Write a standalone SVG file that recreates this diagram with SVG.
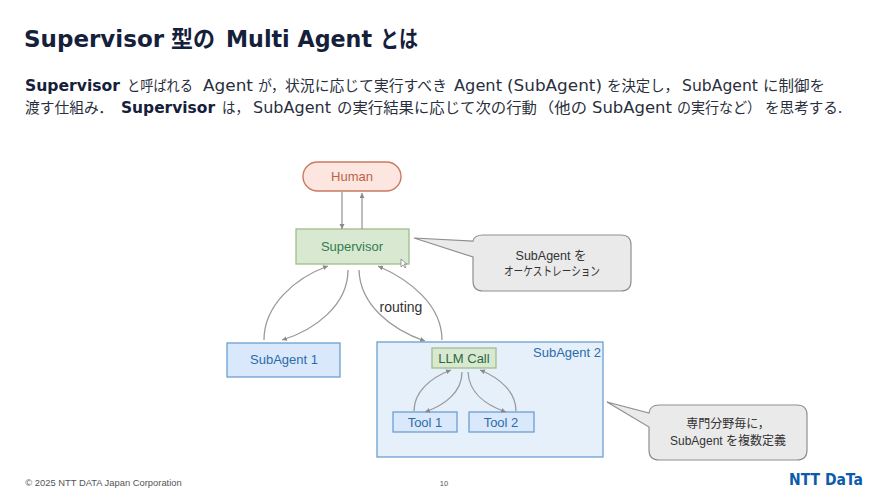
<svg xmlns="http://www.w3.org/2000/svg" width="887" height="501" viewBox="0 0 887 501">
<style>
.t{font-family:"DejaVu Sans","Noto Sans CJK JP",sans-serif;fill:#2a2f3d;font-size:15.5px}
.j{font-family:"Noto Sans CJK JP","DejaVu Sans",sans-serif;fill:#2a2f3d;font-size:14.5px}
.b{font-weight:700;fill:#15203a}
.h{font-size:23px}
.l{font-family:"Liberation Sans","Noto Sans CJK JP",sans-serif;text-anchor:middle}
.c{fill:none;stroke:#9a9a9a;stroke-width:1.3}
.blue{fill:#dae8fc;stroke:#6c9fd0;stroke-width:1.3}
.green{fill:#d9e8d0;stroke:#9ebd8c;stroke-width:1.3}
.call{fill:#eaeaea;stroke:#8f8f8f;stroke-width:1.2}
</style>
<defs>
<marker id="a" markerWidth="7" markerHeight="7" refX="5" refY="2.500" orient="auto" markerUnits="userSpaceOnUse"><path d="M0 0L5 2.500L0 5Z" fill="#8a8a8a"/></marker>
</defs>
<rect width="887" height="501" fill="#fff"/>
<g id="heading">
<text class="t b h" x="24" y="47">Supervisor</text>
<text class="j b h" x="171" y="47" textLength="44" lengthAdjust="spacingAndGlyphs">型の</text>
<text class="t b h" x="226" y="47" textLength="146" lengthAdjust="spacingAndGlyphs">Multi Agent</text>
<text class="j b h" x="380" y="47" textLength="38" lengthAdjust="spacingAndGlyphs">とは</text>
</g>
<g id="body">
<text class="t b" x="25" y="91" textLength="95" lengthAdjust="spacingAndGlyphs">Supervisor</text>
<text class="j" x="127" y="91" textLength="66" lengthAdjust="spacingAndGlyphs">と呼ばれる</text>
<text class="t" x="203" y="91" textLength="50" lengthAdjust="spacingAndGlyphs">Agent</text>
<text class="j" x="258" y="91" textLength="27" lengthAdjust="spacingAndGlyphs">が，</text>
<text class="j" x="285" y="91" textLength="162" lengthAdjust="spacingAndGlyphs">状況に応じて実行すべき</text>
<text class="t" x="454" y="91" textLength="48" lengthAdjust="spacingAndGlyphs">Agent</text>
<text class="t" x="507" y="91" textLength="95" lengthAdjust="spacingAndGlyphs">(SubAgent)</text>
<text class="j" x="607" y="91" textLength="72" lengthAdjust="spacingAndGlyphs">を決定し，</text>
<text class="t" x="682" y="91" textLength="76" lengthAdjust="spacingAndGlyphs">SubAgent</text>
<text class="j" x="763" y="91" textLength="62" lengthAdjust="spacingAndGlyphs">に制御を</text>
<text class="j" x="25" y="113" textLength="88" lengthAdjust="spacingAndGlyphs">渡す仕組み．</text>
<text class="t b" x="121" y="113" textLength="94" lengthAdjust="spacingAndGlyphs">Supervisor</text>
<text class="j" x="222" y="113" textLength="27" lengthAdjust="spacingAndGlyphs">は，</text>
<text class="t" x="253" y="113" textLength="78" lengthAdjust="spacingAndGlyphs">SubAgent</text>
<text class="j" x="337" y="113" textLength="200" lengthAdjust="spacingAndGlyphs">の実行結果に応じて次の行動</text>
<text class="j" x="538" y="113" textLength="49" lengthAdjust="spacingAndGlyphs">（他の</text>
<text class="t" x="592" y="113" textLength="80" lengthAdjust="spacingAndGlyphs">SubAgent</text>
<text class="j" x="677" y="113" textLength="84" lengthAdjust="spacingAndGlyphs">の実行など）</text>
<text class="j" x="765" y="113" textLength="77" lengthAdjust="spacingAndGlyphs">を思考する.</text>
</g>
<g id="human"><rect x="303" y="162" width="98" height="29" rx="14.5" fill="#fde6df" stroke="#c97a62" stroke-width="1.4"/><text class="l" x="352" y="181" font-size="13" fill="#b8644a">Human</text></g>
<g id="supervisor"><rect class="green" x="296" y="229" width="113" height="35"/><text class="l" x="352" y="251" font-size="13" fill="#2f7d4f">Supervisor</text></g>
<g id="routing-label"><text class="l" x="401" y="312" font-size="14" fill="#333">routing</text></g>
<g id="subagent1"><rect class="blue" x="227" y="343" width="113" height="34"/><text class="l" x="284" y="364" font-size="13" fill="#2b6ca8">SubAgent 1</text></g>
<g id="subagent2"><rect x="377" y="342" width="226" height="115" fill="#e6f0fb" stroke="#6c9fd0" stroke-width="1.3"/><text class="l" x="567" y="357" font-size="13" fill="#2b6ca8">SubAgent 2</text></g>
<g id="llm"><rect class="green" x="432" y="348" width="64" height="20"/><text class="l" x="464" y="363" font-size="13" fill="#2a6b3f">LLM Call</text></g>
<g id="tool1"><rect class="blue" x="393" y="412" width="64" height="20"/><text class="l" x="425" y="427" font-size="13" fill="#2b6ca8">Tool 1</text></g>
<g id="tool2"><rect class="blue" x="469" y="412" width="65" height="20"/><text class="l" x="501" y="427" font-size="13" fill="#2b6ca8">Tool 2</text></g>
<g id="connectors">
<path class="c" marker-end="url(#a)" d="M342 192V229"/>
<path class="c" marker-end="url(#a)" d="M362 229V193"/>
<path class="c" marker-end="url(#a)" d="M264 340C264 305 295 278 328 266"/>
<path class="c" marker-end="url(#a)" d="M348 270C348 305 315 330 282 340"/>
<path class="c" marker-end="url(#a)" d="M359 270C360 305 392 330 425 341"/>
<path class="c" marker-end="url(#a)" d="M442 340C442 305 410 280 378 266"/>
<path class="c" marker-end="url(#a)" d="M414 411C414 392 430 378 451 370"/>
<path class="c" marker-end="url(#a)" d="M462 372C462 392 445 405 425 412"/>
<path class="c" marker-end="url(#a)" d="M468 372C469 392 485 405 506 412"/>
<path class="c" marker-end="url(#a)" d="M516 411C516 392 500 378 480 370"/>
</g>
<g id="callout1"><path class="call" d="M483 235H621Q631 235 631 245V281Q631 291 621 291H483Q473 291 473 281V257L414 238L473 241Q474 235 483 235Z"/><text class="l" x="551" y="260" font-size="12.5" fill="#333">SubAgent を</text><text class="l" x="552" y="276" font-size="12.5" fill="#333" textLength="96" lengthAdjust="spacingAndGlyphs">オーケストレーション</text></g>
<g id="callout2"><path class="call" d="M659 405H797Q807 405 807 415V450Q807 460 797 460H659Q649 460 649 450V427L607 402L649 413Q650 405 659 405Z"/><text class="l" x="728" y="428" font-size="12" fill="#333">専門分野毎に，</text><text class="l" x="728" y="445" font-size="12" fill="#333">SubAgent を複数定義</text></g>
<path d="M401 259V267L403 265L405 268L406 267L404 264L407 264Z" fill="#fff" stroke="#777" stroke-width=".7"/>
<text class="l" x="103.500" y="486" font-size="9.4" fill="#555">© 2025 NTT DATA Japan Corporation</text>
<text class="l" x="444" y="486" font-size="7.5" fill="#555">10</text>
<text x="789" y="485" font-family="DejaVu Sans" font-weight="700" font-size="15.500" fill="#0b5cab" textLength="74" lengthAdjust="spacingAndGlyphs">NTT DaTa</text>
</svg>
